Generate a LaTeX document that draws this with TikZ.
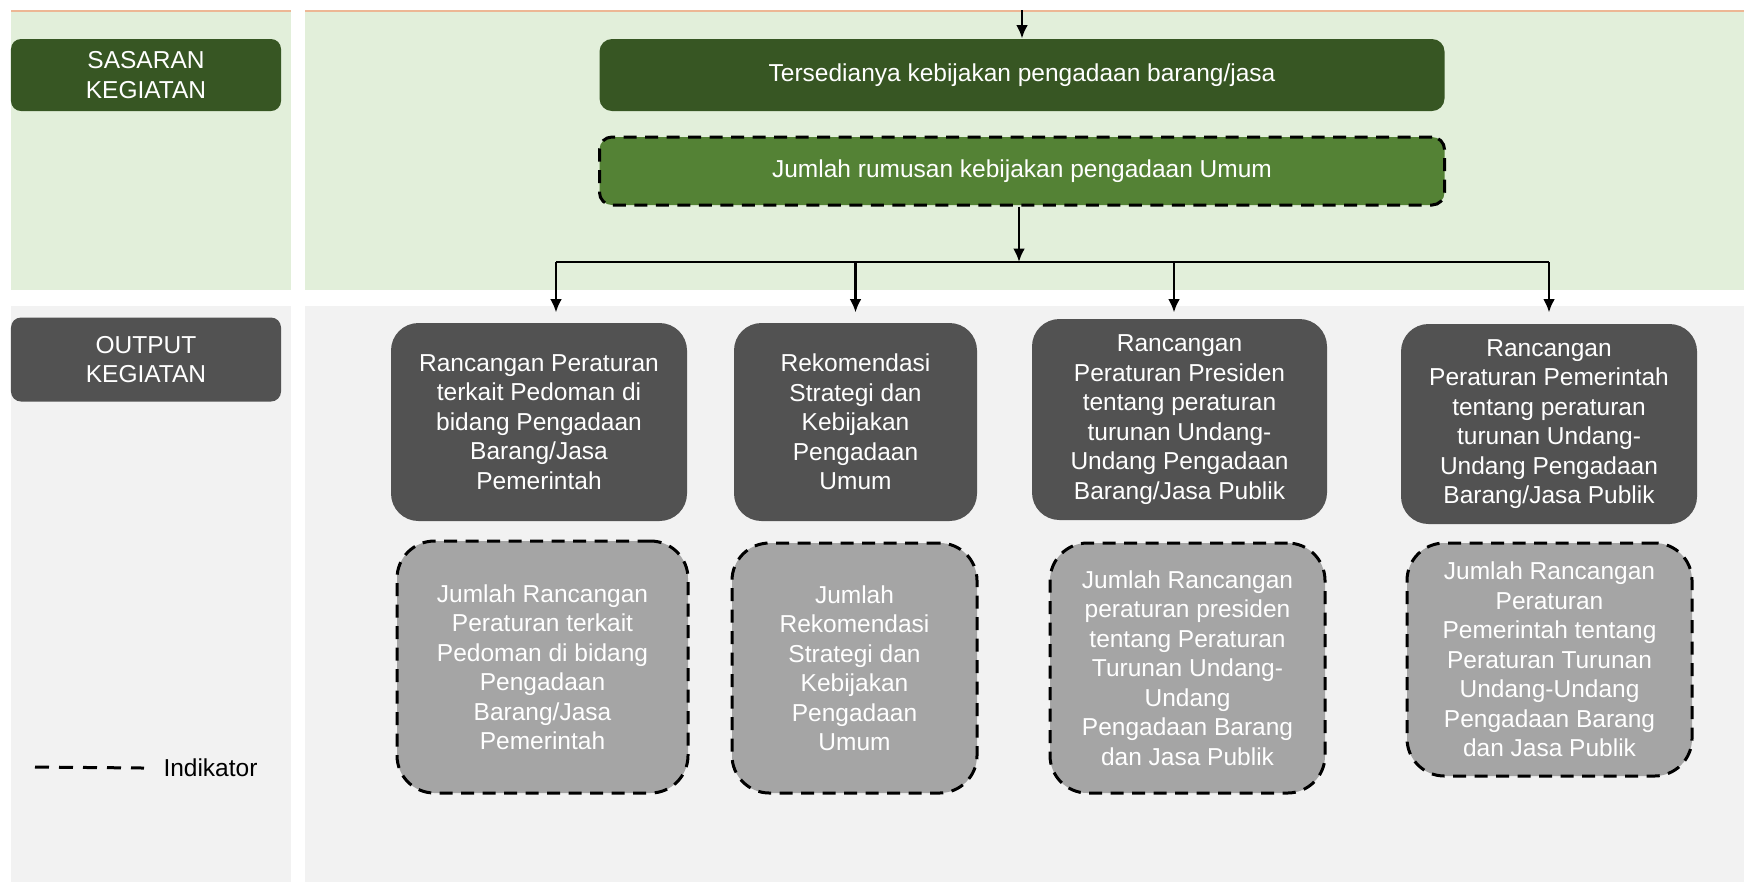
\documentclass[tikz,border=0pt]{standalone}
\usepackage{fontspec}
\setmainfont{Liberation Sans}
\usetikzlibrary{arrows.meta}

\definecolor{sasaranGreen}{HTML}{375623}
\definecolor{indGreen}{HTML}{548235}
\definecolor{greenBg}{HTML}{E2EFDA}
\definecolor{grayBg}{HTML}{F2F2F2}
\definecolor{outputGray}{HTML}{525252}
\definecolor{indGray}{HTML}{A5A5A5}
\definecolor{topLine}{HTML}{EDB795}

\tikzset{
    labelbox/.style={rounded corners=4pt, inner sep=0pt, text=white, minimum width=108pt},
    goalbox/.style={rounded corners=5pt, inner sep=0pt, text=white, minimum width=338pt},
    outbox/.style={rounded corners=11pt, inner sep=0pt, text=white, fill=outputGray},
    indbox/.style={rounded corners=15pt, inner sep=0pt, text=white, fill=indGray,
        draw=black, line width=1.2pt, dash pattern=on 5.2pt off 3.4pt},
    flow/.style={line width=1.1pt, -{Latex[length=5.4pt, width=4.8pt]}}
}

\begin{document}
\begin{tikzpicture}[x=0.4pt, y=-0.4pt, every node/.style={font=\fontsize{9.8}{11.8}\selectfont, align=center}]
    % Parameters
    \def\barY{262} % y of the branching line

    \useasboundingbox (0,0) rectangle (1744,883);

    % Draw the background panels
    \fill[greenBg] (11,11) rectangle (291,290);
    \fill[greenBg] (305,11) rectangle (1744,290);
    \fill[grayBg] (11,306) rectangle (291,882);
    \fill[grayBg] (305,306) rectangle (1744,882);
    \draw[topLine, line width=1pt] (11,11) -- (291,11);
    \draw[topLine, line width=1pt] (305,11) -- (1744,11);

    % Row labels
    \node[labelbox, fill=sasaranGreen, minimum height=28.8pt] (sasaranLbl) at (146,75) {SASARAN\\KEGIATAN};
    \node[labelbox, fill=outputGray, minimum height=33.6pt] (outputLbl) at (146,359.5) {OUTPUT\\KEGIATAN};

    % Sasaran and its indicator
    \node[goalbox, fill=sasaranGreen, minimum height=28.8pt] (sasaran) at (1022,75) {Tersedianya kebijakan pengadaan barang/jasa};
    \node[goalbox, fill=indGreen, minimum height=27.2pt, draw=black, line width=1.2pt,
        dash pattern=on 5.2pt off 3.4pt] (indUmum) at (1022,171) {Jumlah rumusan kebijakan pengadaan Umum};

    % Output boxes
    \node[outbox, minimum width=118.4pt, minimum height=79.2pt] (out1) at (539,422)
        {Rancangan Peraturan\\terkait Pedoman di\\bidang Pengadaan\\Barang/Jasa\\Pemerintah};
    \node[outbox, minimum width=97.2pt, minimum height=79.2pt] (out2) at (855.5,422)
        {Rekomendasi\\Strategi dan\\Kebijakan\\Pengadaan\\Umum};
    \node[outbox, minimum width=118pt, minimum height=80.4pt] (out3) at (1179.5,419.5)
        {Rancangan\\Peraturan Presiden\\tentang peraturan\\turunan Undang-\\Undang Pengadaan\\Barang/Jasa Publik};
    \node[outbox, minimum width=118.4pt, minimum height=80pt] (out4) at (1549,424)
        {Rancangan\\Peraturan Pemerintah\\tentang peraturan\\turunan Undang-\\Undang Pengadaan\\Barang/Jasa Publik};

    % Indicator boxes
    \node[indbox, minimum width=116.4pt, minimum height=100.8pt] (ind1) at (542.5,667)
        {Jumlah Rancangan\\Peraturan terkait\\Pedoman di bidang\\Pengadaan\\Barang/Jasa\\Pemerintah};
    \node[indbox, minimum width=98pt, minimum height=100pt] (ind2) at (854.5,668)
        {Jumlah\\Rekomendasi\\Strategi dan\\Kebijakan\\Pengadaan\\Umum};
    \node[indbox, minimum width=110pt, minimum height=100pt] (ind3) at (1187.5,668)
        {Jumlah Rancangan\\peraturan presiden\\tentang Peraturan\\Turunan Undang-\\Undang\\Pengadaan Barang\\dan Jasa Publik};
    \node[indbox, minimum width=114pt, minimum height=93.2pt] (ind4) at (1549.5,659.5)
        {Jumlah Rancangan\\Peraturan\\Pemerintah tentang\\Peraturan Turunan\\Undang-Undang\\Pengadaan Barang\\dan Jasa Publik};

    % Add arrows
    \coordinate (topIn) at (1022,10);
    \coordinate (branch) at ([xshift=-1.2pt]indUmum.south |- 0,\barY);
    \draw[flow] (topIn) -- (sasaran.north);
    \draw[flow] ([xshift=-1.2pt]indUmum.south) -- (branch);
    \draw[line width=1.1pt] ([xshift=6.8pt]out1.north |- branch) -- (out4.north |- branch);
    \draw[flow, shorten >=4pt] ([xshift=6.8pt]out1.north |- branch) -- ([xshift=6.8pt]out1.north);
    \draw[flow, shorten >=4pt] (out2.north |- branch) -- (out2.north);
    \draw[flow, shorten >=2.4pt] ([xshift=-2.2pt]out3.north |- branch) -- ([xshift=-2.2pt]out3.north);
    \draw[flow, shorten >=4.4pt] (out4.north |- branch) -- (out4.north);

    % Legend
    \node[anchor=west, text=black, inner sep=0pt] (legend) at (163,768) {Indikator};
    \draw[line width=1.2pt, dash pattern=on 5.6pt off 4pt] (35,767) -- ([xshift=-7.6pt]legend.west);
\end{tikzpicture}
\end{document}
